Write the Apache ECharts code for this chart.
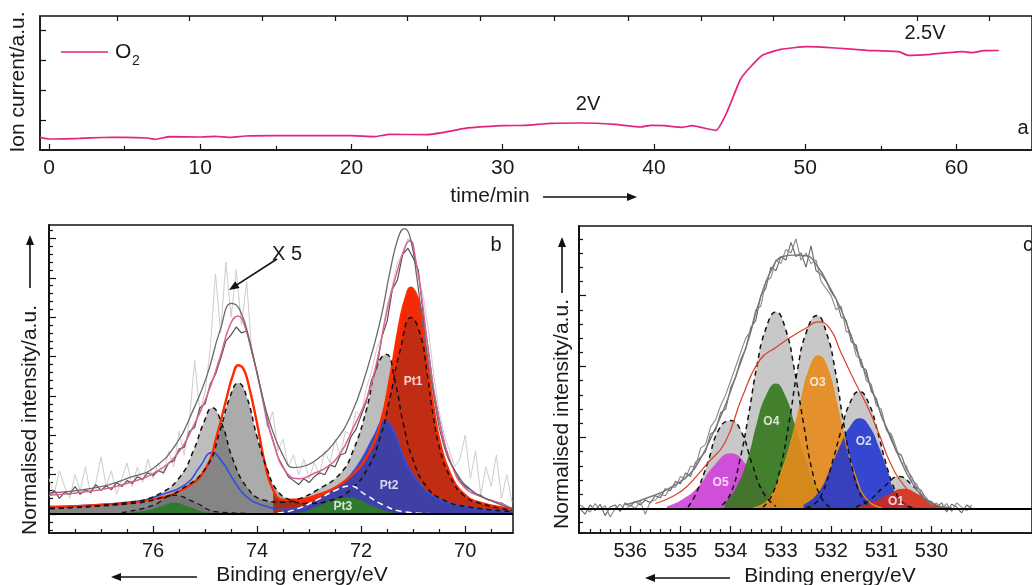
<!DOCTYPE html>
<html><head><meta charset="utf-8">
<script src="https://cdn.jsdelivr.net/npm/echarts@6/dist/echarts.min.js"></script>
<style>html,body{margin:0;padding:0;background:#fff}#c{width:1032px;height:585px}</style>
</head><body><div id="c"></div>
<script>
// ---------- Panel a: O2 ion current vs time ----------
const ionTime = [-0.6, 0, 2, 3.5, 5, 6.5, 7, 8, 10, 11, 12, 13, 15, 17, 20, 21.5, 22.5, 25, 26, 27.5, 30, 31.5, 33.2, 35.1, 37.4, 39.1, 39.8, 40.7, 41.9, 42.5, 44.1, 44.8, 45.7, 46.3, 47.2, 48.4, 50.1, 52, 54.1, 56.2, 56.8, 58.3, 60.4, 61, 61.8, 62.8];
const ionCurrent = [12.7, 11, 11.7, 12.5, 12.7, 12, 10.7, 13.3, 13, 13.7, 12.7, 14, 14.3, 14.3, 14.3, 13.3, 15.7, 15.3, 17.3, 21.7, 24.3, 24.7, 26.7, 27, 25.7, 23, 24.7, 24.3, 22.7, 24.3, 19.7, 37, 70, 81.7, 95, 100.7, 103.3, 102, 99.7, 98.3, 94.7, 95.7, 98.3, 97.3, 99.3, 99.5];
const aTickLabels = [0, 10, 20, 30, 40, 50, 60];
const aMinorTicks = [5, 15, 25, 35, 45, 55, 65];
const aTopTicks = [4.5, 9.3, 14.1, 18.9, 23.7, 28.5, 33.4, 38.3, 43.1, 47.9, 52.6, 57.4, 62.2];
const aYTicks = [30, 60, 90, 120];

// ---------- Panel b: Pt 4f ----------
const bTickLabels = [70, 72, 74, 76];
const bMinorX = [69.5, 70.5, 71, 71.5, 72.5, 73, 73.5, 74.5, 75, 75.5, 76.5, 77, 77.5];
const bYTicks = [0, 1, 2, 3, 4, 5, 6, 7];
const bEnergy = [78.0,77.9,77.8,77.7,77.6,77.5,77.4,77.3,77.2,77.1,77.0,76.9,76.8,76.7,76.6,76.5,76.4,76.3,76.2,76.1,76.0,75.9,75.8,75.7,75.6,75.5,75.4,75.3,75.2,75.1,75.0,74.9,74.8,74.7,74.6,74.5,74.4,74.3,74.2,74.1,74.0,73.9,73.8,73.7,73.6,73.5,73.4,73.3,73.2,73.1,73.0,72.9,72.8,72.7,72.6,72.5,72.4,72.3,72.2,72.1,72.0,71.9,71.8,71.7,71.6,71.5,71.4,71.3,71.2,71.1,71.0,70.9,70.8,70.7,70.6,70.5,70.4,70.3,70.2,70.1,70.0,69.9,69.8,69.7,69.6,69.5,69.4,69.3,69.2,69.1];
const bRawLight = [0.9,0.5,1.1,0.7,0.4,1.0,0.6,1.2,0.5,0.8,1.45, 0.7,1.1,0.5,0.9,1.3,0.7,1.2,0.8,1.4,0.9, 1.3,1.0,1.6,1.2,2.1,1.5,2.4,3.9,2.6,3.1, 4.2,6.1,4.6,6.4,5.0,6.2,4.8,5.9,4.1,3.6, 2.9,2.2,2.6,1.6,1.9,1.2,1.5,1.0,1.4,0.9, 1.3,1.0,1.6,1.3,1.9,1.5,2.1,2.0,2.6,2.5, 3.2,3.6,4.2,4.5,5.3,5.8,6.4,6.6,7.0,6.9, 6.0,5.5,4.6,3.5,2.6,2.0,1.6,1.2,1.4,2.0, 0.9,1.6,0.5,1.2,0.7,1.5,0.4,1.0,0.3];
const bRawDark = [0.45,0.6,0.4,0.55,0.5,0.7,0.5,0.62,0.55,0.75,0.6, 0.72,0.62,0.8,0.7,0.85,0.78,0.95,0.88,1.05,0.98, 1.1,1.05,1.3,1.35,1.65,1.7,2.1,2.2,2.7,2.8, 3.3,3.55,3.95,4.4,4.55,4.75,4.6,4.65,4.1,3.6, 3.0,2.3,1.9,1.45,1.2,0.95,0.85,0.75,0.9,0.8, 0.95,1.05,1.0,1.25,1.2,1.5,1.55,1.95,2.15,2.5, 2.85,3.4,3.7,4.5,4.9,5.7,5.95,6.6,6.75,6.5, 6.2,5.0,4.1,3.1,2.4,1.8,1.35,1.1,0.85,0.7, 0.62,0.5,0.48,0.38,0.35,0.3,0.28,0.2,0.15];
const bEnvelope = [[78.0,0.54],[77.02,0.69],[76.4,0.95],[76.0,1.16],[75.55,1.79],[75.23,2.64],[74.97,3.49],[74.71,4.67],[74.49,5.35],[74.33,5.18],[74.13,4.33],[73.94,3.23],[73.75,2.3],[73.49,1.46],[73.3,1.18],[73.04,1.24],[72.78,1.46],[72.53,1.79],[72.21,2.47],[71.89,3.65],[71.63,4.92],[71.44,6.19],[71.28,7.04],[71.17,7.25],[71.06,7.04],[70.93,6.02],[70.8,4.67],[70.6,2.98],[70.42,1.79],[70.16,1.03],[69.84,0.57],[69.45,0.31],[69.1,0.14]];
const bFit = [[78.0,0.48],[77.04,0.61],[76.4,0.82],[76.0,1.03],[75.55,1.5],[75.23,2.22],[74.97,2.98],[74.71,3.99],[74.52,4.8],[74.37,5.03],[74.23,4.75],[74.06,3.91],[73.87,2.81],[73.68,1.79],[73.42,1.03],[73.17,0.9],[72.91,1.03],[72.65,1.2],[72.4,1.54],[72.14,2.22],[71.88,2.98],[71.69,3.91],[71.5,5.18],[71.3,6.19],[71.14,6.83],[71.06,6.94],[70.95,6.45],[70.82,5.35],[70.66,3.65],[70.47,2.22],[70.27,1.29],[70.02,0.69],[69.69,0.44],[69.31,0.27],[69.1,0.14]];
const bPt1 = [[77.98,0.17],[77.02,0.23],[76.06,0.36],[75.35,0.69],[74.97,1.2],[74.78,1.96],[74.58,2.98],[74.47,3.5],[74.36,3.78],[74.26,3.68],[74.17,3.32],[74.0,2.3],[73.85,1.29],[73.69,0.61],[73.49,0.36],[73.17,0.37],[72.85,0.48],[72.53,0.65],[72.21,0.95],[71.89,1.46],[71.63,2.3],[71.44,3.49],[71.25,4.92],[71.14,5.5],[71.04,5.75],[70.95,5.6],[70.85,5.18],[70.74,3.99],[70.61,2.72],[70.48,1.79],[70.29,1.03],[70.03,0.52],[69.71,0.29],[69.1,0.14]];
const bPt2 = [[77.98,0.19],[76.4,0.31],[75.87,0.48],[75.35,0.78],[75.1,1.2],[74.87,1.56],[74.65,1.29],[74.45,0.86],[74.2,0.44],[73.81,0.19],[73.49,0.12],[73.17,0.15],[72.85,0.35],[72.53,0.6],[72.2,1.0],[71.96,1.46],[71.76,1.96],[71.55,2.37],[71.38,2.13],[71.19,1.46],[70.93,0.86],[70.6,0.44],[70.16,0.23],[69.65,0.12],[69.1,0.06]];
const bPt3 = [[76.6,0.02],[76.1,0.1],[75.8,0.22],[75.6,0.29],[75.3,0.18],[75.0,0.05],[74.6,0.01],[73.6,0.01],[73.17,0.05],[72.78,0.23],[72.53,0.37],[72.27,0.42],[72.02,0.36],[71.76,0.19],[71.38,0.04],[71.0,0.01]];
const bGrayA = [[77.98,0.14],[76.4,0.27],[75.87,0.4],[75.48,0.61],[74.97,1.2],[74.71,2.13],[74.52,2.98],[74.36,3.33],[74.2,2.98],[74.0,1.96],[73.8,1.12],[73.62,0.61],[73.37,0.36],[73.04,0.27],[72.53,0.37],[72.21,0.61],[71.89,1.12],[71.63,1.96],[71.44,2.98],[71.25,4.16],[71.04,4.99],[70.85,4.5],[70.74,3.65],[70.61,2.47],[70.48,1.62],[70.29,0.95],[70.03,0.48],[69.71,0.27],[69.1,0.1]];
const bGrayB = [[77.98,0.14],[76.4,0.31],[75.87,0.52],[75.48,0.95],[75.22,1.62],[75.03,2.3],[74.86,2.7],[74.68,2.3],[74.46,1.37],[74.2,0.69],[73.88,0.36],[73.5,0.3],[73.17,0.4],[72.85,0.61],[72.4,1.03],[72.15,1.62],[71.9,2.64],[71.7,3.74],[71.52,4.06],[71.34,3.32],[71.19,2.3],[71.0,1.37],[70.74,0.69],[70.42,0.36],[69.97,0.19],[69.1,0.06]];
const bGrayC = [[76.6,0.04],[76.0,0.22],[75.6,0.48],[75.2,0.3],[74.78,0.06],[74.2,0.02],[73.6,0.03],[73.3,0.1],[72.85,0.36],[72.5,0.6],[72.22,0.71],[71.9,0.48],[71.57,0.23],[71.19,0.06],[70.6,0.01]];
const bLabels = [{name:'Pt1', value:[71.0,3.35]}, {name:'Pt2', value:[71.46,0.71]}, {name:'Pt3', value:[72.35,0.2]}];

// ---------- Panel c: O 1s ----------
const cTickLabels = [530, 531, 532, 533, 534, 535, 536];
const cMinorX = [536.8,536.6,536.4,536.2,535.8,535.6,535.4,535.2,534.8,534.6,534.4,534.2,533.8,533.6,533.4,533.2,532.8,532.6,532.4,532.2,531.8,531.6,531.4,531.2,530.8,530.6,530.4,530.2,529.8,529.6,529.4,529.2];
const cYTicks = [0, 1, 2, 3];
const cEnergy = [537.0,536.9,536.8,536.7,536.6,536.5,536.4,536.3,536.2,536.1,536.0,535.9,535.8,535.7,535.6,535.5,535.4,535.3,535.2,535.1,535.0,534.9,534.8,534.7,534.6,534.5,534.4,534.3,534.2,534.1,534.0,533.9,533.8,533.7,533.6,533.5,533.4,533.3,533.2,533.1,533.0,532.9,532.8,532.7,532.6,532.5,532.4,532.3,532.2,532.1,532.0,531.9,531.8,531.7,531.6,531.5,531.4,531.3,531.2,531.1,531.0,530.9,530.8,530.7,530.6,530.5,530.4,530.3,530.2,530.1,530.0,529.9,529.8,529.7,529.6,529.5,529.4,529.3,529.2];
const cRawA = [0.0,-0.08,0.05,-0.03,0.06,-0.1,0.02,0.05,-0.04,0.08,0.03, 0.1,0.05,0.12,0.08,0.18,0.15,0.28,0.25,0.38,0.35, 0.5,0.45,0.65,0.72,0.8,1.05,1.1,1.35,1.4,1.7, 1.85,2.1,2.25,2.55,2.65,3.0,3.1,3.4,3.35,3.55, 3.5,3.75,3.55,3.6,3.4,3.7,3.35,3.3,3.2,3.05, 2.95,2.7,2.65,2.35,2.3,2.0,1.95,1.65,1.55,1.3, 1.15,1.0,0.8,0.75,0.55,0.45,0.3,0.25,0.12,0.1, 0.02,0.08,-0.05,0.06,0.02,-0.06,0.05,0.0];
const cRawB = [0.05,0.0,-0.05,0.07,-0.02,0.04,-0.12,0.0,0.06,-0.02,0.05, 0.0,0.1,-0.08,0.1,0.12,0.2,0.18,0.3,0.3,0.45, 0.42,0.6,0.58,0.85,0.9,1.15,1.25,1.45,1.6,1.8, 2.0,2.2,2.4,2.5,2.8,2.85,3.2,3.25,3.5,3.45, 3.65,3.6,3.8,3.5,3.6,3.45,3.5,3.2,3.1,3.0, 2.8,2.85,2.5,2.45,2.15,2.1,1.8,1.75,1.45,1.4, 1.1,1.05,0.85,0.65,0.6,0.4,0.35,0.2,0.15,0.05, 0.08,0.0,0.07,-0.04,0.08,0.02,-0.03,0.05];
const cEnvelope = [[536.1,0.05],[535.5,0.19],[535.16,0.31],[534.81,0.49],[534.58,0.73],[534.35,1.06],[534.12,1.43],[533.88,1.9],[533.65,2.37],[533.42,2.94],[533.19,3.36],[532.96,3.55],[532.73,3.57],[532.5,3.56],[532.27,3.41],[532.03,3.12],[531.8,2.8],[531.57,2.37],[531.34,1.95],[531.11,1.53],[530.88,1.1],[530.65,0.73],[530.42,0.4],[530.18,0.17],[529.95,0.05],[529.6,0.01]];
const cFit = [[535.5,0.07],[535.16,0.17],[534.87,0.31],[534.46,0.64],[534.12,0.92],[533.77,1.57],[533.42,2.09],[533.08,2.28],[532.79,2.42],[532.5,2.54],[532.27,2.63],[532.03,2.54],[531.8,2.19],[531.51,1.76],[531.28,1.44],[531.05,1.06],[530.82,0.64],[530.53,0.31],[530.24,0.12],[529.95,0.03]];
const cG5 = [[534.85,0.02],[534.69,0.21],[534.46,0.64],[534.23,1.12],[534.0,1.24],[533.8,1.1],[533.57,0.62],[533.35,0.22],[533.1,0.03]];
const cG4 = [[534.17,0.05],[534.0,0.21],[533.83,0.64],[533.65,1.29],[533.48,2.0],[533.31,2.51],[533.1,2.77],[532.9,2.51],[532.73,1.95],[532.55,1.2],[532.38,0.54],[532.21,0.17],[532.03,0.02]];
const cG3 = [[533.36,0.02],[533.19,0.17],[533.02,0.54],[532.84,1.2],[532.67,1.95],[532.5,2.47],[532.28,2.72],[532.09,2.47],[531.92,1.95],[531.75,1.2],[531.57,0.54],[531.4,0.17],[531.23,0.02]];
const cG2 = [[532.5,0.01],[532.32,0.07],[532.15,0.26],[531.98,0.64],[531.8,1.1],[531.63,1.48],[531.44,1.65],[531.25,1.48],[531.08,1.1],[530.91,0.64],[530.73,0.26],[530.56,0.07],[530.36,0.01]];
const cG1 = [[531.51,0.02],[531.23,0.12],[530.94,0.31],[530.65,0.45],[530.36,0.31],[530.07,0.1],[529.78,0.01]];
const cO5 = [[535.27,0.03],[534.98,0.12],[534.64,0.31],[534.35,0.59],[534.0,0.78],[533.65,0.59],[533.36,0.31],[533.02,0.09],[532.73,0.02]];
const cO4 = [[534.12,0.07],[533.88,0.31],[533.65,0.73],[533.48,1.2],[533.31,1.57],[533.1,1.76],[532.9,1.57],[532.73,1.2],[532.55,0.78],[532.32,0.35],[532.03,0.07],[531.8,0.01]];
const cO3 = [[533.54,0.01],[533.25,0.12],[533.02,0.45],[532.79,0.96],[532.61,1.48],[532.44,1.95],[532.25,2.15],[532.06,1.95],[531.89,1.48],[531.72,0.96],[531.51,0.45],[531.28,0.12],[530.99,0.01]];
const cO2 = [[532.55,0.05],[532.27,0.21],[532.03,0.54],[531.8,0.92],[531.63,1.15],[531.43,1.27],[531.23,1.15],[531.05,0.87],[530.88,0.54],[530.71,0.21],[530.47,0.05],[530.24,0.01]];
const cO1 = [[531.57,0.01],[531.23,0.07],[530.88,0.19],[530.56,0.28],[530.24,0.19],[529.95,0.07],[529.66,0.01]];
const cLabels = [{name:'O5', value:[534.2,0.37]}, {name:'O4', value:[533.19,1.23]}, {name:'O3', value:[532.27,1.77]}, {name:'O2', value:[531.35,0.94]}, {name:'O1', value:[530.71,0.09]}];

// ---------- build ----------
const FONT = '"Liberation Sans", Arial, Helvetica, sans-serif';
const INK = '#1a1a1a';
const SMOOTH = 0.5;
const zip = (xs, ys) => xs.map((x, i) => [x, ys[i]]);
function minorList(lo, hi, step, major) {
  const out = [];
  for (let v = lo; v <= hi + 1e-9; v += step) {
    const r = Math.round(v * 100) / 100;
    if (Math.abs(r / major - Math.round(r / major)) > 1e-6) out.push(r);
  }
  return out;
}
function xAx(grid, min, max, inverse, ticks, labels, len, extra) {
  return Object.assign({
    type: 'value', gridIndex: grid, min, max, inverse, position: 'bottom',
    axisLine: {show: !!labels, onZero: false, lineStyle: {color: '#111', width: 1.5}},
    axisTick: {show: true, inside: true, length: len, customValues: ticks, lineStyle: {color: '#111', width: 1.2}},
    axisLabel: labels ? {customValues: labels, margin: 8, fontSize: 20, color: INK, fontFamily: FONT} : {show: false},
    splitLine: {show: false}
  }, extra || {});
}
function yAx(grid, min, max, ticks, len) {
  return {
    type: 'value', gridIndex: grid, min, max, position: 'left',
    axisLine: {show: true, onZero: false, lineStyle: {color: '#111', width: 1.5}},
    axisTick: {show: true, inside: true, length: len, customValues: ticks, lineStyle: {color: '#111', width: 1.2}},
    axisLabel: {show: false}, splitLine: {show: false}
  };
}
function ln(xi, yi, data, color, width, extra) {
  return Object.assign({
    type: 'line', xAxisIndex: xi, yAxisIndex: yi, data, symbol: 'none', showSymbol: false, silent: true,
    smooth: false, lineStyle: {color, width}
  }, extra || {});
}
function curve(xi, yi, data, color, width, type) {
  return ln(xi, yi, data, color, width, {smooth: SMOOTH, lineStyle: {color, width, type: type || 'solid'}});
}
function fill(xi, yi, data, color) {
  return ln(xi, yi, data, color, 0, {smooth: SMOOTH, lineStyle: {width: 0, opacity: 0}, areaStyle: {color, opacity: 1}});
}
function labelSeries(xi, yi, data) {
  return {type: 'scatter', xAxisIndex: xi, yAxisIndex: yi, data, symbolSize: 0, itemStyle: {color: 'rgba(0,0,0,0)'}, silent: true, z: 20,
    label: {show: true, position: 'inside', formatter: '{b}', color: '#fff', fontSize: 12, fontWeight: 'bold', fontFamily: FONT}};
}
function arrow(x1, y1, x2, y2) {
  const dx = x2 - x1, dy = y2 - y1, L = Math.hypot(dx, dy), ux = dx / L, uy = dy / L;
  const hl = 10, hw = 4;
  const bx = x2 - ux * hl, by = y2 - uy * hl;
  return [
    {type: 'line', z: 100, shape: {x1, y1, x2: bx + ux * 2, y2: by + uy * 2}, style: {stroke: '#111', lineWidth: 1.6}},
    {type: 'polygon', z: 100, shape: {points: [[x2, y2], [bx - uy * hw, by + ux * hw], [bx + uy * hw, by - ux * hw]]}, style: {fill: '#111'}}
  ];
}
function txt(x, y, text, size, rot) {
  return {type: 'text', z: 100, x, y, rotation: rot || 0,
    style: {text, fontSize: size, fontFamily: FONT, fill: INK, align: 'center', verticalAlign: 'middle'}};
}

const XA = 0, YA = 0, XB = 3, YB = 1, XC = 5, YC = 3;
const splitAt = 73.7;
const left = d => d.filter(p => p[0] > splitAt);
const right = d => d.filter(p => p[0] < splitAt);
const grayASplit = 73.04;
const grayALeft = bGrayA.filter(p => p[0] >= grayASplit);
const grayARight = bGrayA.filter(p => p[0] <= grayASplit);
const baseLine = {silent: true, symbol: 'none', label: {show: false}, lineStyle: {color: '#000', width: 2, type: 'solid'}, data: [{yAxis: 0}]};

const option = {
  animation: false,
  backgroundColor: '#fff',
  grid: [
    {left: 40, top: 16, width: 1027, height: 134, show: true, borderColor: '#111', borderWidth: 1.5},
    {left: 49, top: 225, width: 464, height: 308, show: true, borderColor: '#111', borderWidth: 1.5},
    {left: 579, top: 226, width: 520, height: 307, show: true, borderColor: '#111', borderWidth: 1.5}
  ],
  xAxis: [
    xAx(0, -0.6, 65, false, aTickLabels, aTickLabels, 6, {axisLabel: {customValues: aTickLabels, margin: 8, fontSize: 21, color: INK, fontFamily: FONT}}),
    xAx(0, -0.6, 65, false, aMinorTicks, null, 4),
    xAx(0, -0.6, 65, false, aTopTicks, null, 5, {position: 'top'}),
    xAx(1, 69.08, 78, true, bTickLabels, bTickLabels, 7),
    xAx(1, 69.08, 78, true, bMinorX, null, 4),
    xAx(2, 528, 537.02, true, cTickLabels, cTickLabels, 7),
    xAx(2, 528, 537.02, true, cMinorX, null, 4)
  ],
  yAxis: [
    yAx(0, 0, 134, aYTicks, 6),
    yAx(1, -0.48, 7.34, bYTicks, 7),
    yAx(1, -0.48, 7.34, minorList(-0.4, 7.2, 0.2, 1), 4),
    yAx(2, -0.345, 3.98, cYTicks, 7),
    yAx(2, -0.345, 3.98, minorList(-0.2, 3.8, 0.2, 1), 4)
  ],
  series: [
    // panel a
    ln(XA, YA, zip(ionTime, ionCurrent), '#e3237e', 1.7, {smooth: 0.15}),
    // panel b
    ln(XB, YB, zip(bEnergy, bRawLight), '#cdcdcd', 1),
    fill(XB, YB, bGrayB, '#bdbdbd'),
    fill(XB, YB, right(bPt1), '#f22a08'),
    fill(XB, YB, grayALeft, 'rgba(55,55,55,0.42)'),
    fill(XB, YB, grayARight, 'rgba(55,55,55,0.26)'),
    fill(XB, YB, right(bPt2), 'rgba(52,66,176,0.93)'),
    fill(XB, YB, left(bGrayC), 'rgba(90,90,90,0.35)'),
    fill(XB, YB, bPt3, '#2f7a2f'),
    curve(XB, YB, bPt2, '#2f4fe0', 1.6),
    curve(XB, YB, bPt1, '#ff2a00', 2.4),
    curve(XB, YB, bGrayB, '#111', 1.5, [5, 4]),
    curve(XB, YB, bGrayA, '#111', 1.5, [5, 4]),
    curve(XB, YB, left(bGrayC), '#111', 1.3, [5, 4]),
    curve(XB, YB, right(bGrayC), '#ffffff', 1.5, [6, 4]),
    ln(XB, YB, [], '#000', 0, {markLine: baseLine}),
    ln(XB, YB, zip(bEnergy, bRawDark), '#505050', 1.2),
    curve(XB, YB, bFit, '#e0609e', 1.5),
    curve(XB, YB, bEnvelope, '#6a6a6a', 1.3),
    labelSeries(XB, YB, bLabels),
    // panel c
    fill(XC, YC, cG5, '#c8c8c8'),
    fill(XC, YC, cG4, '#c8c8c8'),
    fill(XC, YC, cG3, '#c8c8c8'),
    fill(XC, YC, cG2, '#c8c8c8'),
    fill(XC, YC, cG1, '#c8c8c8'),
    fill(XC, YC, cO5, 'rgba(208,62,218,0.88)'),
    fill(XC, YC, cO4, 'rgba(52,120,28,0.9)'),
    fill(XC, YC, cO3, 'rgba(230,138,28,0.9)'),
    fill(XC, YC, cO2, 'rgba(32,52,210,0.88)'),
    fill(XC, YC, cO1, 'rgba(214,40,20,0.88)'),
    curve(XC, YC, cO3, '#e8901c', 1.2),
    curve(XC, YC, cG5, '#111', 1.5, [5, 4]),
    curve(XC, YC, cG4, '#111', 1.5, [5, 4]),
    curve(XC, YC, cG3, '#111', 1.5, [5, 4]),
    curve(XC, YC, cG2, '#111', 1.5, [5, 4]),
    curve(XC, YC, cG1, '#111', 1.5, [5, 4]),
    ln(XC, YC, [], '#000', 0, {markLine: baseLine}),
    curve(XC, YC, cFit, '#d8402a', 1.2),
    ln(XC, YC, zip(cEnergy, cRawA), '#666', 1.1),
    ln(XC, YC, zip(cEnergy, cRawB), '#888', 1.1),
    curve(XC, YC, cEnvelope, '#777', 1.4),
    labelSeries(XC, YC, cLabels)
  ],
  graphic: [
    txt(18, 82, 'Ion current/a.u.', 21, Math.PI / 2),
    {type: 'line', z: 100, shape: {x1: 61, y1: 52, x2: 108, y2: 52}, style: {stroke: '#e3237e', lineWidth: 1.7}},
    {type: 'text', z: 100, x: 115, y: 52, style: {text: 'O', fontSize: 21, fontFamily: FONT, fill: INK, align: 'left', verticalAlign: 'middle'}},
    {type: 'text', z: 100, x: 132, y: 61, style: {text: '2', fontSize: 14, fontFamily: FONT, fill: INK, align: 'left', verticalAlign: 'middle'}},
    txt(588, 104, '2V', 20),
    txt(925, 33, '2.5V', 20),
    txt(1023, 128, 'a', 20),
    txt(490, 196, 'time/min', 21),
    ...arrow(543, 197, 637, 197),
    txt(30, 420, 'Normalised intensity/a.u.', 21, Math.PI / 2),
    ...arrow(30, 288, 30, 235),
    txt(496, 245, 'b', 20),
    txt(287, 254, 'X 5', 20),
    ...arrow(277, 259, 229, 290),
    txt(302, 575, 'Binding energy/eV', 21),
    ...arrow(197, 577, 111, 577),
    txt(562, 414, 'Normalised intensity/a.u.', 21, Math.PI / 2),
    ...arrow(562, 293, 562, 237),
    txt(1028, 245, 'c', 20),
    txt(830, 576, 'Binding energy/eV', 21),
    ...arrow(730, 578, 645, 578)
  ]
};
const chart = echarts.init(document.getElementById('c'), null, {renderer: 'canvas'});
chart.setOption(option);
</script>
</body></html>
